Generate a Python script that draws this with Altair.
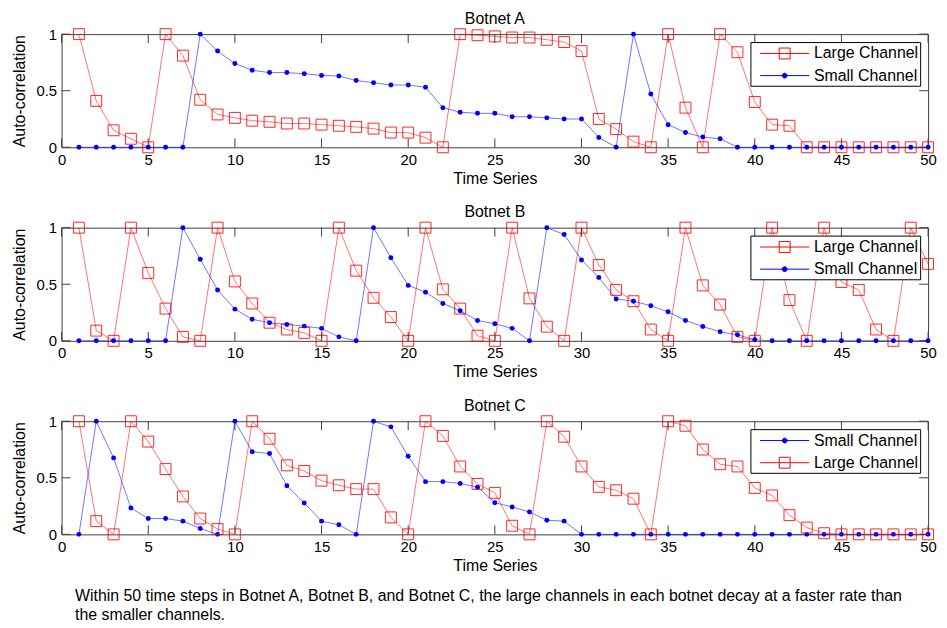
import altair as alt
import pandas as pd

steps = list(range(1, 51))

a_large = [1.0, 0.41, 0.15, 0.075, 0.0, 1.0, 0.81, 0.42, 0.29, 0.26,
           0.235, 0.225, 0.21, 0.21, 0.20, 0.19, 0.18, 0.165, 0.13, 0.13,
           0.085, 0.0, 1.0, 0.99, 0.98, 0.97, 0.97, 0.95, 0.93, 0.85,
           0.25, 0.16, 0.05, 0.0, 1.0, 0.35, 0.0, 1.0, 0.84, 0.40,
           0.20, 0.19, 0, 0, 0, 0, 0, 0, 0, 0]
a_small = [0, 0, 0, 0, 0, 0, 0, 1.0, 0.85, 0.74,
           0.68, 0.66, 0.66, 0.65, 0.635, 0.63, 0.59, 0.57, 0.55, 0.55,
           0.53, 0.35, 0.31, 0.30, 0.30, 0.27, 0.27, 0.26, 0.25, 0.25,
           0.087, 0.0, 1.0, 0.47, 0.20, 0.13, 0.09, 0.075, 0, 0,
           0, 0, 0, 0, 0, 0, 0, 0, 0, 0]

b_large = [1.0, 0.09, 0.0, 1.0, 0.60, 0.285, 0.035, 0.0, 1.0, 0.525,
           0.33, 0.16, 0.10, 0.07, 0.0, 1.0, 0.62, 0.38, 0.21, 0.0,
           1.0, 0.455, 0.285, 0.045, 0.0, 1.0, 0.375, 0.125, 0.0, 1.0,
           0.67, 0.45, 0.35, 0.10, 0.0, 1.0, 0.49, 0.32, 0.035, 0.0,
           1.0, 0.36, 0.0, 1.0, 0.52, 0.45, 0.10, 0.0, 1.0, 0.68]
b_small = [0, 0, 0, 0, 0, 0, 1.0, 0.72, 0.45, 0.28,
           0.19, 0.16, 0.145, 0.13, 0.11, 0.035, 0.0, 1.0, 0.735, 0.49,
           0.43, 0.33, 0.265, 0.18, 0.15, 0.11, 0.0, 1.0, 0.94, 0.715,
           0.56, 0.37, 0.35, 0.31, 0.256, 0.18, 0.126, 0.08, 0.053, 0.01,
           0, 0, 0, 0, 0, 0, 0, 0, 0, 0]

c_large = [1.0, 0.117, 0.0, 1.0, 0.82, 0.577, 0.335, 0.14, 0.047, 0.0,
           1.0, 0.845, 0.61, 0.56, 0.475, 0.434, 0.40, 0.40, 0.15, 0.0,
           1.0, 0.87, 0.60, 0.446, 0.367, 0.076, 0.0, 1.0, 0.863, 0.60,
           0.42, 0.39, 0.315, 0.0, 1.0, 0.96, 0.75, 0.62, 0.60, 0.41,
           0.344, 0.17, 0.06, 0.01, 0, 0, 0, 0, 0, 0]
c_small = [0.0, 1.0, 0.676, 0.233, 0.14, 0.14, 0.117, 0.052, 0.0, 1.0,
           0.73, 0.714, 0.43, 0.277, 0.117, 0.085, 0.0, 1.0, 0.95, 0.69,
           0.466, 0.466, 0.45, 0.417, 0.28, 0.242, 0.198, 0.125, 0.117, 0.0,
           0, 0, 0, 0, 0, 0, 0, 0, 0, 0,
           0, 0, 0, 0, 0, 0, 0, 0, 0, 0]

xticks = list(range(0, 51, 5))
yticks = [0, 0.5, 1]
series_names = ["Large Channel", "Small Channel"]
panel_titles = ["Botnet A", "Botnet B", "Botnet C"]
caption = ["Within 50 time steps in Botnet A, Botnet B, and Botnet C, the large channels in each botnet decay at a faster rate than",
           "the smaller channels."]

W, H = 873, 114
TICK = 9
FONT = "Liberation Sans"
RED = "#ff0000"
BLUE = "#0000ff"
FRAME = "#404040"

LARGE_SYM = "M-2.75,0L2.75,0M-0.61,-0.61L0.61,-0.61L0.61,0.61L-0.61,0.61Z"
SMALL_SYM = "M-2.75,0L2.75,0M0.27,0A0.27,0.27,0,1,1,-0.27,0A0.27,0.27,0,1,1,0.27,0Z"
SYM = {"Large Channel": LARGE_SYM, "Small Channel": SMALL_SYM}
STROKES = {"Large Channel": RED, "Small Channel": BLUE}
FILLS = {"Large Channel": "transparent", "Small Channel": BLUE}

xaxis = alt.Axis(values=xticks, ticks=False, domain=False, grid=False,
                 labelFont=FONT, labelFontSize=15, labelColor="black",
                 labelPadding=5, labelFlush=False,
                 title="Time Series", titleFont=FONT, titleFontSize=16,
                 titleFontWeight="normal", titleColor="black", titlePadding=3)
yaxis = alt.Axis(values=yticks, format="~g", ticks=False, domain=False, grid=False,
                 labelFont=FONT, labelFontSize=15, labelColor="black",
                 labelPadding=5, labelFlush=False,
                 title="Auto-correlation", titleFont=FONT, titleFontSize=16,
                 titleFontWeight="normal", titleColor="black", titlePadding=8,
                 minExtent=26, maxExtent=26)


def X(f):
    return alt.X(f"{f}:Q", scale=alt.Scale(domain=[0, 50], nice=False, zero=False), axis=xaxis)


def Y(f):
    return alt.Y(f"{f}:Q", scale=alt.Scale(domain=[0, 1], nice=False), axis=yaxis)


LEG = alt.Legend(title=None, orient="top-right", offset=8, padding=2, rowPadding=4.3,
                 symbolSize=324, symbolStrokeWidth=1, symbolOffset=23, labelOffset=20,
                 labelFont=FONT, labelFontSize=16, labelColor="black",
                 strokeColor="black", fillColor="white")


def panel(title, large, small, large_first):
    dl = pd.DataFrame({"x": steps, "v": large})
    ds = pd.DataFrame({"x": steps, "v": small})
    large_line = alt.Chart(dl).mark_line(color=RED, strokeWidth=1, opacity=0.55).encode(x=X("x"), y=Y("v"))
    large_pts = alt.Chart(dl).mark_point(shape="square", size=121, color=RED, strokeWidth=1,
                                         opacity=0.85, filled=False).encode(x=X("x"), y=Y("v"))
    small_line = alt.Chart(ds).mark_line(color=BLUE, strokeWidth=1, opacity=0.55).encode(x=X("x"), y=Y("v"))
    small_pts = alt.Chart(ds).mark_circle(color=BLUE, size=25, opacity=1).encode(x=X("x"), y=Y("v"))

    xt = alt.Chart(pd.DataFrame({"t": xticks}))
    top = xt.mark_rule(color=FRAME, strokeWidth=1).encode(x=X("t"), y=alt.value(0), y2=alt.value(TICK))
    bot = xt.mark_rule(color=FRAME, strokeWidth=1).encode(x=X("t"), y=alt.value(H - TICK), y2=alt.value(H))
    yt = alt.Chart(pd.DataFrame({"t": yticks}))
    left = yt.mark_rule(color=FRAME, strokeWidth=1).encode(y=Y("t"), x=alt.value(0), x2=alt.value(TICK))
    right = yt.mark_rule(color=FRAME, strokeWidth=1).encode(y=Y("t"), x=alt.value(W - TICK), x2=alt.value(W))

    order = series_names if large_first else series_names[::-1]
    dleg = pd.DataFrame({"x": [0] * len(order), "v": [0] * len(order), "series": order})
    leg = alt.Chart(dleg).mark_point(opacity=1, filled=True).encode(
        x=X("x"), y=Y("v"),
        stroke=alt.Stroke("series:N", scale=alt.Scale(domain=order, range=[STROKES[s] for s in order]), legend=LEG),
        fill=alt.Fill("series:N", scale=alt.Scale(domain=order, range=[FILLS[s] for s in order]), legend=LEG),
        shape=alt.Shape("series:N", scale=alt.Scale(domain=order, range=[SYM[s] for s in order]), legend=LEG),
    ).transform_filter("datum.x < 0")

    if large_first:
        data_layers = [large_line, large_pts, small_line, small_pts]
    else:
        data_layers = [small_line, small_pts, large_line, large_pts]

    return alt.layer(top, bot, left, right, *data_layers, leg).properties(
        width=W, height=H,
        title=alt.TitleParams(title, font=FONT, fontSize=16, fontWeight="normal",
                              color="black", offset=0),
    )


pa = panel(panel_titles[0], a_large, a_small, True)
pb = panel(panel_titles[1], b_large, b_small, True)
pc = panel(panel_titles[2], c_large, c_small, False)

chart = alt.vconcat(pa, pb, pc, spacing=17).resolve_scale(
    stroke="independent", fill="independent", shape="independent"
).properties(
    title=alt.TitleParams(caption, orient="bottom", anchor="start", dx=64, offset=15,
                          font=FONT, fontSize=16, fontWeight="normal", color="black",
                          lineHeight=19),
    padding={"left": 3, "top": 0, "right": 2, "bottom": 0},
).configure_view(stroke=FRAME, strokeWidth=1)

chart.save("out.html", embed_options={"renderer": "svg", "actions": False})
